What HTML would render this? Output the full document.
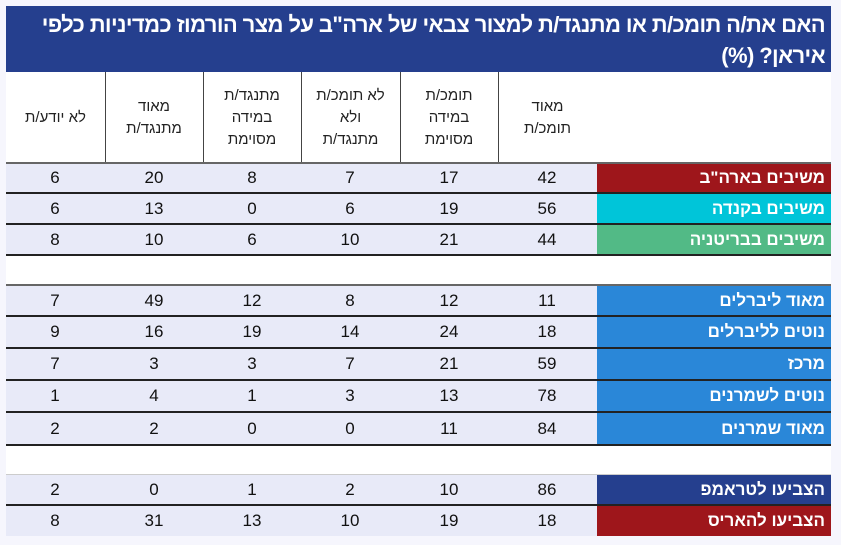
<!DOCTYPE html>
<html><head><meta charset="utf-8"><style>
*{margin:0;padding:0;box-sizing:border-box}
body{width:841px;height:545px;background:#f6f6fd;position:relative;overflow:hidden;font-family:"Liberation Sans","Noto Sans CJK SC",sans-serif}
.t{position:absolute;left:6px;top:6px;width:825px;height:66px;background:#253f8e;color:#fff;font-weight:bold;font-size:22px;letter-spacing:-0.6px;direction:rtl;text-align:right;padding:3px 6px 0 2px;line-height:31px;white-space:nowrap}
.w{position:absolute;left:6px;width:825px;background:#fff}
.h{position:absolute;top:72px;height:91px;display:flex;align-items:center;justify-content:center;text-align:center;font-size:15px;line-height:22px;color:#222;direction:rtl}
.vl{position:absolute;top:72px;height:91px;width:1px;background:#444}
.r{position:absolute;left:6px;width:825px;background:#e8eaf8;border-bottom:2px solid #222}
.r div{position:absolute;top:0;height:100%;display:flex;align-items:center;justify-content:center;font-size:17px;color:#111;width:98px}
.r .l{left:591px;width:234px;justify-content:flex-start;padding-right:6px;color:#fff;font-weight:bold;font-size:17px;direction:rtl}
</style></head><body>
<div class="t">האם את/ה תומכ/ת או מתנגד/ת למצור צבאי של ארה"ב על מצר הורמוז כמדיניות כלפי<br>איראן? (%)</div>
<div class="w" style="top:72px;height:91px"></div>
<div class="w" style="top:256px;height:28px"></div>
<div class="w" style="top:446px;height:28px"></div>
<div class="h" style="left:6px;width:99px">לא יודע/ת</div>
<div class="h" style="left:105px;width:98px">מאוד<br>מתנגד/ת</div>
<div class="h" style="left:203px;width:98px">מתנגד/ת<br>במידה<br>מסוימת</div>
<div class="h" style="left:301px;width:99px">לא תומכ/ת<br>ולא<br>מתנגד/ת</div>
<div class="h" style="left:400px;width:98px">תומכ/ת<br>במידה<br>מסוימת</div>
<div class="h" style="left:498px;width:99px">מאוד<br>תומכ/ת</div>
<div class="vl" style="left:105px"></div><div class="vl" style="left:203px"></div><div class="vl" style="left:301px"></div><div class="vl" style="left:400px"></div><div class="vl" style="left:498px"></div>
<div style="position:absolute;left:6px;top:162px;width:825px;height:2px;background:#666"></div>

<div class="r" style="top:164px;height:30px"><div style="left:0">6</div><div style="left:99px">20</div><div style="left:197px">8</div><div style="left:295px">7</div><div style="left:394px">17</div><div style="left:492px">42</div><div class="l" style="background:#9e161b">משיבים בארה"ב</div></div>
<div class="r" style="top:194px;height:31px"><div style="left:0">6</div><div style="left:99px">13</div><div style="left:197px">0</div><div style="left:295px">6</div><div style="left:394px">19</div><div style="left:492px">56</div><div class="l" style="background:#00c5d9">משיבים בקנדה</div></div>
<div class="r" style="top:225px;height:31px"><div style="left:0">8</div><div style="left:99px">10</div><div style="left:197px">6</div><div style="left:295px">10</div><div style="left:394px">21</div><div style="left:492px">44</div><div class="l" style="background:#52ba86">משיבים בבריטניה</div></div>

<div class="r" style="top:284px;height:33px;border-top:2px solid #666"><div style="left:0">7</div><div style="left:99px">49</div><div style="left:197px">12</div><div style="left:295px">8</div><div style="left:394px">12</div><div style="left:492px">11</div><div class="l" style="background:#2a87d8">מאוד ליברלים</div></div>
<div class="r" style="top:317px;height:32px"><div style="left:0">9</div><div style="left:99px">16</div><div style="left:197px">19</div><div style="left:295px">14</div><div style="left:394px">24</div><div style="left:492px">18</div><div class="l" style="background:#2a87d8">נוטים לליברלים</div></div>
<div class="r" style="top:349px;height:32px"><div style="left:0">7</div><div style="left:99px">3</div><div style="left:197px">3</div><div style="left:295px">7</div><div style="left:394px">21</div><div style="left:492px">59</div><div class="l" style="background:#2a87d8">מרכז</div></div>
<div class="r" style="top:381px;height:32px"><div style="left:0">1</div><div style="left:99px">4</div><div style="left:197px">1</div><div style="left:295px">3</div><div style="left:394px">13</div><div style="left:492px">78</div><div class="l" style="background:#2a87d8">נוטים לשמרנים</div></div>
<div class="r" style="top:413px;height:33px"><div style="left:0">2</div><div style="left:99px">2</div><div style="left:197px">0</div><div style="left:295px">0</div><div style="left:394px">11</div><div style="left:492px">84</div><div class="l" style="background:#2a87d8">מאוד שמרנים</div></div>

<div class="r" style="top:474px;height:32px;border-top:1px solid #ccc"><div style="left:0">2</div><div style="left:99px">0</div><div style="left:197px">1</div><div style="left:295px">2</div><div style="left:394px">10</div><div style="left:492px">86</div><div class="l" style="background:#253f8e">הצביעו לטראמפ</div></div>
<div class="r" style="top:506px;height:30px;border-bottom:none"><div style="left:0">8</div><div style="left:99px">31</div><div style="left:197px">13</div><div style="left:295px">10</div><div style="left:394px">19</div><div style="left:492px">18</div><div class="l" style="background:#9e161b">הצביעו להאריס</div></div>
</body></html>
